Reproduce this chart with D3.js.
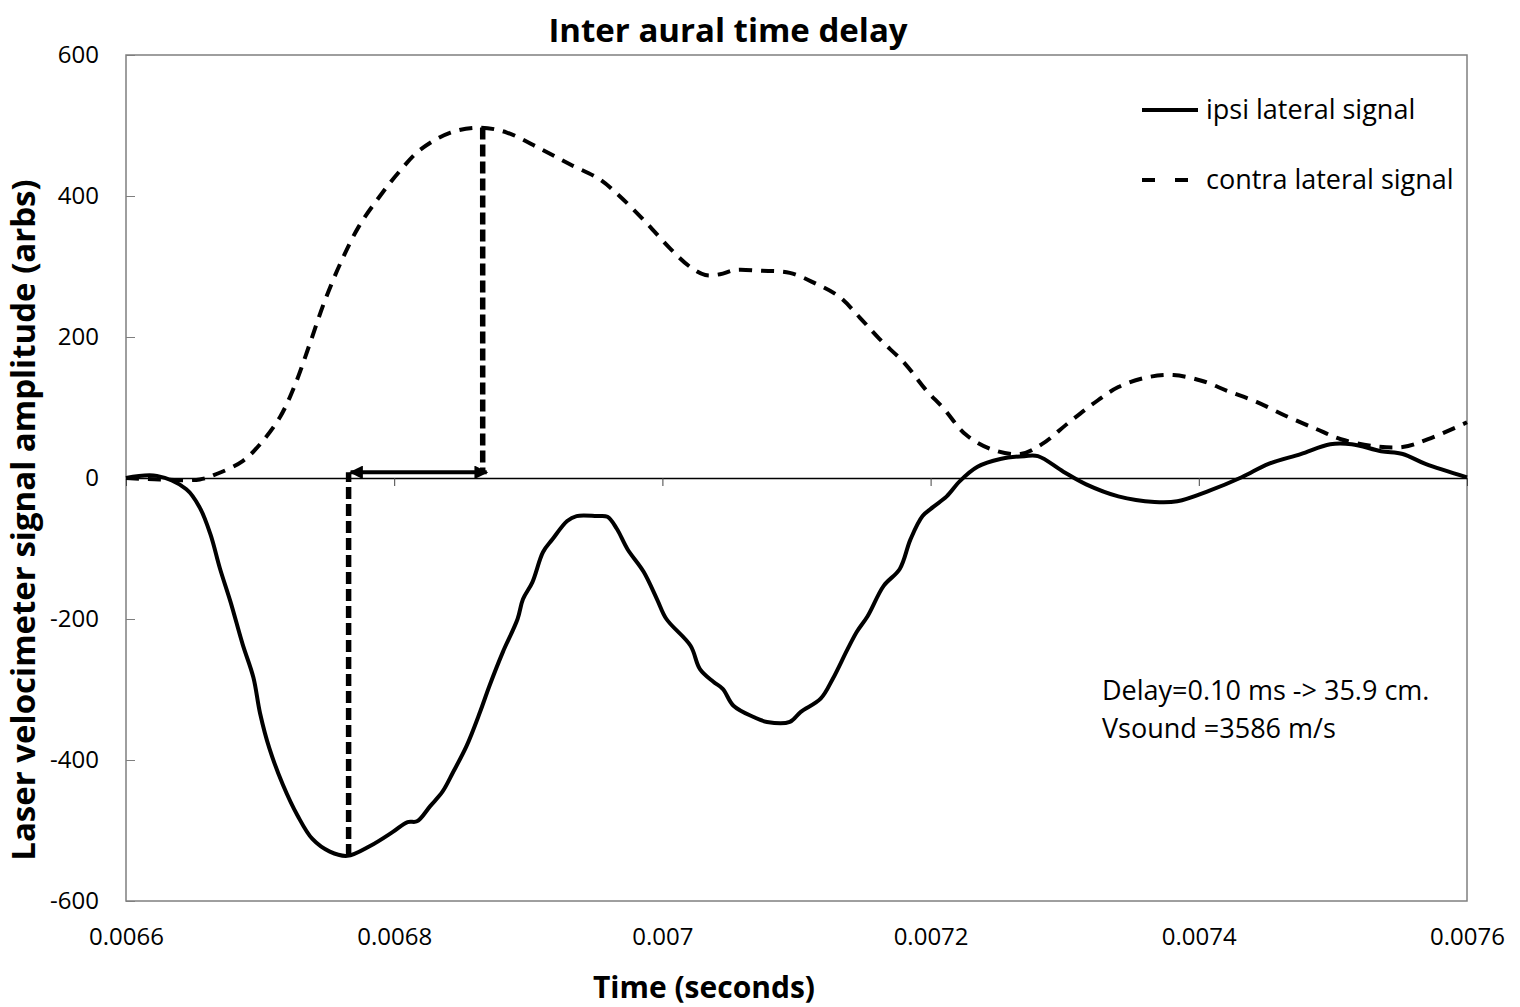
<!DOCTYPE html>
<html>
<head>
<meta charset="utf-8">
<script src="https://cdn.jsdelivr.net/npm/d3@7"></script>
<style>
  body { margin: 0; background: #fff; }
  svg text { font-family: "Open Sans", "DejaVu Sans", sans-serif; fill: #000; }
</style>
</head>
<body>
<div id="chart"></div>
<script>
// ipsi lateral signal (solid)
const ipsiTime = [0.006600, 0.006623, 0.006645, 0.006655, 0.006663, 0.006670, 0.006678, 0.006687, 0.006695, 0.006700,
  0.006707, 0.006717, 0.006728, 0.006739, 0.006752, 0.006765, 0.006782, 0.006799, 0.006810, 0.006817,
  0.006827, 0.006836, 0.006844, 0.006854, 0.006864, 0.006871, 0.006881, 0.006892, 0.006896, 0.006903,
  0.006911, 0.006918, 0.006929, 0.006936, 0.006951, 0.006959, 0.006966, 0.006974, 0.006986, 0.006996,
  0.007003, 0.007021, 0.007028, 0.007038, 0.007045, 0.007053, 0.007068, 0.007078, 0.007095, 0.007103,
  0.007118, 0.007127, 0.007138, 0.007145, 0.007153, 0.007165, 0.007177, 0.007185, 0.007194, 0.007202,
  0.007212, 0.007222, 0.007235, 0.007252, 0.007270, 0.007280, 0.007299, 0.007316, 0.007340, 0.007367,
  0.007384, 0.007408, 0.007432, 0.007452, 0.007476, 0.007498, 0.007514, 0.007536, 0.007552, 0.007569,
  0.007600];
const ipsiValues = [0, 3, -16, -42, -80, -128, -176, -236, -283, -334,
  -384, -435, -479, -512, -530, -536, -522, -502, -488, -487,
  -465, -445, -417, -380, -332, -295, -247, -200, -172, -148,
  -105, -87, -61, -54, -54, -55, -72, -101, -133, -172,
  -200, -238, -271, -289, -299, -323, -339, -346, -346, -332,
  -313, -285, -243, -218, -196, -153, -129, -87, -54, -41,
  -26, -4, 16, 27, 31, 31, 9, -9, -26, -34,
  -33, -18, 1, 20, 34, 48, 48, 38, 34, 20,
  1];

// contra lateral signal (dashed)
const contraTime = [0.006600, 0.006625, 0.006655, 0.006668, 0.006687, 0.006700, 0.006715, 0.006726, 0.006737, 0.006748,
  0.006760, 0.006774, 0.006789, 0.006804, 0.006819, 0.006842, 0.006864, 0.006884, 0.006909, 0.006931,
  0.006953, 0.006968, 0.006987, 0.007006, 0.007021, 0.007032, 0.007043, 0.007054, 0.007073, 0.007095,
  0.007114, 0.007132, 0.007147, 0.007162, 0.007181, 0.007196, 0.007210, 0.007226, 0.007245, 0.007267,
  0.007283, 0.007302, 0.007321, 0.007340, 0.007362, 0.007381, 0.007402, 0.007422, 0.007443, 0.007465,
  0.007487, 0.007506, 0.007531, 0.007552, 0.007571, 0.007600];
const contraValues = [0, -2, -2, 6, 24, 48, 87, 132, 190, 250,
  305, 358, 399, 435, 465, 490, 497, 490, 467, 445,
  424, 400, 364, 325, 299, 288, 289, 295, 294, 291,
  276, 257, 228, 197, 162, 126, 98, 62, 41, 34,
  48, 77, 105, 129, 143, 146, 138, 123, 108, 88,
  70, 55, 45, 44, 55, 79];

// delay markers: ipsi minimum and contra maximum
const delayTimes = [0.006766, 0.006866];
const delayLevels = [-536, 497];
const arrowLevel = 8;

const xTicks = [0.0066, 0.0068, 0.007, 0.0072, 0.0074, 0.0076];
const yTicks = [-600, -400, -200, 0, 200, 400, 600];

const width = 1520;
const height = 1007;
const margin = { top: 55, right: 53, bottom: 106, left: 126 };

const svg = d3.select("#chart")
  .append("svg")
  .attr("width", width)
  .attr("height", height);

const x = d3.scaleLinear()
  .domain([0.0066, 0.0076])
  .range([margin.left, width - margin.right]);

const y = d3.scaleLinear()
  .domain([-600, 600])
  .range([height - margin.bottom, margin.top]);

// plot frame
svg.append("rect")
  .attr("x", x(0.0066))
  .attr("y", y(600))
  .attr("width", x(0.0076) - x(0.0066))
  .attr("height", y(-600) - y(600))
  .attr("fill", "none")
  .attr("stroke", "#7f7f7f")
  .attr("stroke-width", 1.5);

// y axis, ticks pointing inside
const yAxis = svg.append("g")
  .attr("transform", `translate(${x(0.0066)},0)`)
  .call(d3.axisLeft(y).tickValues(yTicks).tickSizeInner(-9).tickSizeOuter(0)
    .tickPadding(27).tickFormat(d => String(d)));
yAxis.select(".domain").remove();
yAxis.selectAll(".tick line").attr("stroke", "#7f7f7f");
yAxis.selectAll("text").attr("font-size", 24);

// x axis line at zero
const zeroAxis = svg.append("g")
  .attr("transform", `translate(0,${y(0)})`)
  .call(d3.axisBottom(x).tickValues(xTicks).tickSizeInner(8).tickSizeOuter(0).tickFormat(""));
zeroAxis.select(".domain").attr("stroke", "#000").attr("stroke-width", 1.3);
zeroAxis.selectAll(".tick line").attr("stroke", "#444");

// x tick labels at the bottom
const xLabels = svg.append("g")
  .attr("transform", `translate(0,${y(-600)})`)
  .call(d3.axisBottom(x).tickValues(xTicks).tickSize(0).tickPadding(27)
    .tickFormat(d => String(+d.toFixed(4))));
xLabels.select(".domain").remove();
xLabels.selectAll("text").attr("font-size", 24);

const line = d3.line()
  .x(d => x(d[0]))
  .y(d => y(d[1]))
  .curve(d3.curveCatmullRom.alpha(0.5));

svg.append("path")
  .datum(d3.zip(contraTime, contraValues))
  .attr("fill", "none")
  .attr("stroke", "#000")
  .attr("stroke-width", 4)
  .attr("stroke-dasharray", "13,9")
  .attr("d", line);

svg.append("path")
  .datum(d3.zip(ipsiTime, ipsiValues))
  .attr("fill", "none")
  .attr("stroke", "#000")
  .attr("stroke-width", 4)
  .attr("stroke-linejoin", "round")
  .attr("d", line);

// vertical dashed markers
svg.selectAll(".marker")
  .data(d3.zip(delayTimes, delayLevels))
  .enter()
  .append("line")
  .attr("class", "marker")
  .attr("x1", d => x(d[0]))
  .attr("x2", d => x(d[0]))
  .attr("y1", d => y(d[1]))
  .attr("y2", y(arrowLevel))
  .attr("stroke", "#000")
  .attr("stroke-width", 5.5)
  .attr("stroke-dasharray", "12,5");

// double arrow for the delay
const defs = svg.append("defs");
defs.append("marker")
  .attr("id", "head")
  .attr("viewBox", "0 0 10 10")
  .attr("refX", 9)
  .attr("refY", 5)
  .attr("markerWidth", 3.6)
  .attr("markerHeight", 3.4)
  .attr("markerUnits", "strokeWidth")
  .attr("orient", "auto-start-reverse")
  .append("path")
  .attr("d", "M0,0 L10,5 L0,10 Z")
  .attr("fill", "#000");

svg.append("line")
  .attr("x1", x(delayTimes[0]) + 2)
  .attr("x2", x(delayTimes[1]) + 4)
  .attr("y1", y(arrowLevel))
  .attr("y2", y(arrowLevel))
  .attr("stroke", "#000")
  .attr("stroke-width", 4)
  .attr("marker-start", "url(#head)")
  .attr("marker-end", "url(#head)");

// legend
const legend = svg.append("g");
legend.append("line")
  .attr("x1", 1142).attr("x2", 1198)
  .attr("y1", 110).attr("y2", 110)
  .attr("stroke", "#000").attr("stroke-width", 4);
legend.append("text")
  .attr("x", 1206).attr("y", 119)
  .attr("font-size", 27)
  .text("ipsi lateral signal");
legend.append("line")
  .attr("x1", 1142).attr("x2", 1188)
  .attr("y1", 180).attr("y2", 180)
  .attr("stroke", "#000").attr("stroke-width", 4)
  .attr("stroke-dasharray", "13,20");
legend.append("text")
  .attr("x", 1206).attr("y", 189)
  .attr("font-size", 27)
  .text("contra lateral signal");

// delay note
svg.append("text")
  .attr("x", 1102).attr("y", 700)
  .attr("font-size", 27)
  .text("Delay=0.10 ms -> 35.9 cm.");
svg.append("text")
  .attr("x", 1102).attr("y", 738)
  .attr("font-size", 27)
  .text("Vsound =3586 m/s");

// titles
svg.append("text")
  .attr("x", 728).attr("y", 42)
  .attr("text-anchor", "middle")
  .attr("font-size", 33)
  .attr("font-weight", "bold")
  .text("Inter aural time delay");

svg.append("text")
  .attr("x", 704).attr("y", 998)
  .attr("text-anchor", "middle")
  .attr("font-size", 30)
  .attr("font-weight", "bold")
  .text("Time (seconds)");

svg.append("text")
  .attr("transform", "translate(35,520) rotate(-90)")
  .attr("text-anchor", "middle")
  .attr("font-size", 33)
  .attr("font-weight", "bold")
  .text("Laser velocimeter signal amplitude (arbs)");
</script>
</body>
</html>
